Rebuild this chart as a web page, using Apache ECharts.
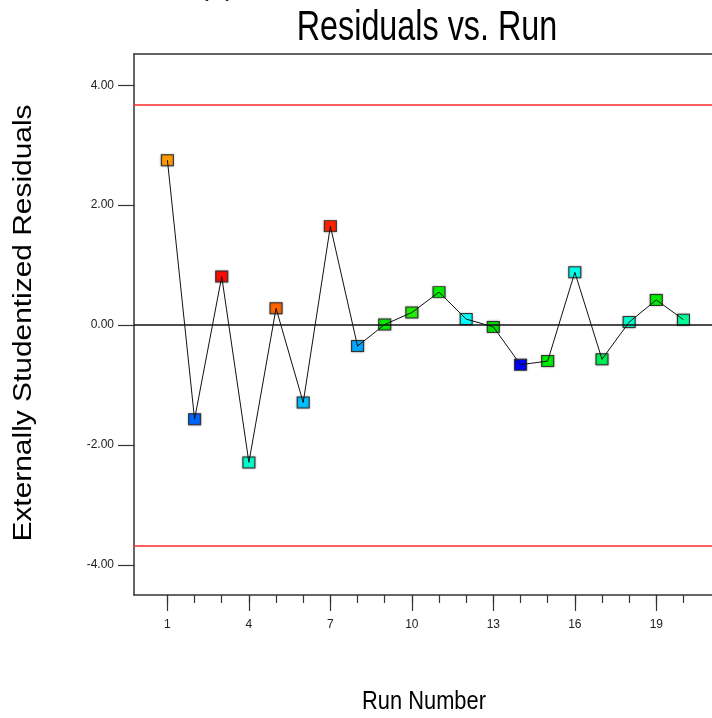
<!DOCTYPE html>
<html>
<head>
<meta charset="utf-8">
<title>Residuals vs. Run</title>
<script src="https://cdn.jsdelivr.net/npm/echarts@6/dist/echarts.min.js"></script>
<style>
	html,body{margin:0;padding:0;background:#fff;}
	#chart{width:712px;height:718px;}
</style>
</head>
<body>
<div id="chart"></div>
<script>
// run order and externally studentized residuals
var runs = [1,2,3,4,5,6,7,8,9,10,11,12,13,14,15,16,17,18,19,20];
var residuals = [2.75,-1.57,0.81,-2.29,0.28,-1.29,1.65,-0.35,0.01,0.21,0.55,0.10,-0.03,-0.66,-0.60,0.88,-0.57,0.05,0.42,0.09];
var pointColors = ["#ff9900","#0066ff","#ff0a00","#00ffcc","#ff6600","#00c0ff","#ff2200","#00a8ff","#00ee00","#22ee00",
	"#00ee00","#00ffff","#00e000","#0000ff","#00ee00","#00ffee","#00ee55","#00ffcc","#00ee00","#00ff99"];
var limit = 3.68;
var xMajorTicks = [1,4,7,10,13,16,19];
var yTicks = [-4,-2,0,2,4];

var pairs = [];
var points = [];
for(var i=0;i<runs.length;i++){
	pairs.push([runs[i],residuals[i]]);
	points.push({value:[runs[i],residuals[i]],itemStyle:{color:pointColors[i]}});
}

var font = "'Liberation Sans', Arial, sans-serif";
var xRange = {min:-0.23,max:21.05};

var option = {
	animation:false,
	backgroundColor:"#fff",
	grid:{left:134,top:54,right:0,bottom:123,containLabel:false},
	xAxis:[{
		type:"value",position:"bottom",min:xRange.min,max:xRange.max,
		axisLine:{show:true,onZero:false,lineStyle:{color:"#333",width:1.5}},
		axisTick:{show:true,inside:false,length:16,customValues:xMajorTicks,lineStyle:{color:"#333",width:1.2}},
		axisLabel:{show:true,customValues:xMajorTicks,margin:24,color:"#222",fontSize:12,fontFamily:font},
		splitLine:{show:false}
	},{
		type:"value",position:"bottom",min:xRange.min,max:xRange.max,
		axisLine:{show:false,onZero:false},
		axisTick:{show:true,inside:false,length:8,customValues:runs,lineStyle:{color:"#333",width:1.2}},
		axisLabel:{show:false},
		splitLine:{show:false}
	},{
		type:"value",position:"top",min:xRange.min,max:xRange.max,
		axisLine:{show:true,onZero:false,lineStyle:{color:"#333",width:1.5}},
		axisTick:{show:false},axisLabel:{show:false},splitLine:{show:false}
	}],
	yAxis:{
		type:"value",min:-4.5,max:4.52,
		axisLine:{show:true,onZero:false,lineStyle:{color:"#333",width:1.5}},
		axisTick:{show:true,inside:false,length:16,customValues:yTicks,lineStyle:{color:"#333",width:1.2}},
		axisLabel:{show:true,customValues:yTicks,margin:20,color:"#222",fontSize:12,fontFamily:font,
			formatter:function(v){return v.toFixed(2);}},
		splitLine:{show:false}
	},
	series:[{
		// squares underneath
		type:"scatter",xAxisIndex:0,z:2,
		symbol:"rect",symbolSize:[12,11],
		itemStyle:{borderColor:"#333",borderWidth:1,opacity:1,shadowColor:"rgba(0,0,0,0.35)",shadowBlur:2},
		emphasis:{disabled:true},
		data:points
	},{
		// connecting line drawn over the squares
		type:"line",xAxisIndex:0,z:3,
		showSymbol:false,symbol:"none",
		lineStyle:{color:"#111",width:1},
		emphasis:{disabled:true},
		data:pairs
	},{
		// zero line and limits
		type:"line",xAxisIndex:0,z:4,data:[],
		markLine:{
			silent:true,symbol:["none","none"],label:{show:false},
			data:[
				{yAxis:0,lineStyle:{color:"#111",width:1.6,type:"solid"}},
				{yAxis:limit,lineStyle:{color:"#ff2a2a",width:1.6,type:"solid"}},
				{yAxis:-limit,lineStyle:{color:"#ff2a2a",width:1.6,type:"solid"}}
			]
		}
	}],
	graphic:[
		{type:"text",x:217,y:-13,style:{text:"(a)",fontSize:30,fontFamily:font,fill:"#222",align:"center",verticalAlign:"middle"}},
		{type:"text",x:427,y:28,scaleX:0.77,style:{text:"Residuals vs. Run",fontSize:42,fontFamily:font,fill:"#000",align:"center",verticalAlign:"middle"}},
		{type:"text",x:424,y:702,scaleX:0.84,style:{text:"Run Number",fontSize:26,fontFamily:font,fill:"#000",align:"center",verticalAlign:"middle"}},
		{type:"text",x:24,y:323,rotation:Math.PI/2,scaleX:1.15,style:{text:"Externally Studentized Residuals",fontSize:26,fontFamily:font,fill:"#000",align:"center",verticalAlign:"middle"}}
	]
};

var myChart = echarts.init(document.getElementById("chart"),null,{renderer:"canvas"});
myChart.setOption(option);
</script>
</body>
</html>
